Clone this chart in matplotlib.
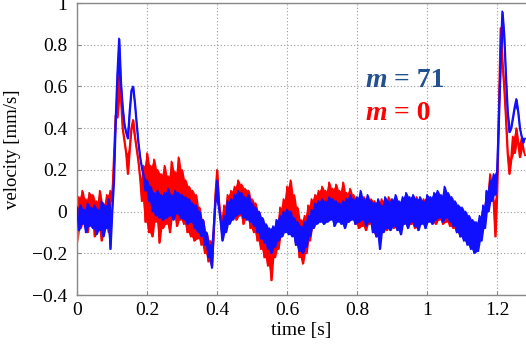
import numpy as np
import matplotlib
matplotlib.use("Agg")
import matplotlib.pyplot as plt

# sampling: one value every 0.005 s, from 0 to 1.28 s
t_start, t_step = 0.0, 0.005

blue_m71 = [
    0.02, -0.09, 0.03, -0.06, 0.01, -0.10, 0.04, -0.07, 0.02, -0.08,
    0.03, -0.11, 0.01, -0.09, 0.05, -0.12, 0.03, -0.08, 0.06, -0.18,
    0.00, 0.15, 0.44, 0.66, 0.83, 0.62, 0.50, 0.42, 0.38, 0.35,
    0.48, 0.58, 0.60, 0.52, 0.42, 0.33, 0.26, 0.21, 0.17, 0.10,
    0.15, 0.05, 0.12, 0.00, 0.09, -0.02, 0.10, -0.03, 0.08, -0.04,
    0.09, -0.03, 0.11, -0.02, 0.08, -0.04, 0.10, -0.01, 0.09, -0.03,
    0.08, -0.04, 0.07, -0.06, 0.06, -0.05, 0.04, -0.08, 0.03, -0.10,
    0.00, -0.12, -0.04, -0.16, -0.10, -0.22, -0.16, -0.27, -0.08, 0.05,
    0.15, 0.02, -0.05, -0.14, -0.02, -0.10, 0.05, -0.06, 0.06, -0.04,
    0.08, -0.02, 0.10, -0.01, 0.09, -0.03, 0.07, -0.04, 0.08, -0.05,
    0.04, -0.07, 0.02, -0.10, 0.00, -0.13, -0.03, -0.15, -0.06, -0.18,
    -0.08, -0.20, -0.07, -0.17, -0.04, -0.14, -0.02, -0.12, 0.00, -0.10,
    0.01, -0.11, 0.00, -0.12, -0.03, -0.16, -0.05, -0.19, -0.07, -0.20,
    -0.05, -0.17, -0.02, -0.12, 0.01, -0.08, 0.04, -0.06, 0.05, -0.05,
    0.06, -0.06, 0.05, -0.05, 0.07, -0.04, 0.06, -0.07, 0.05, -0.05,
    0.04, -0.06, 0.05, -0.08, 0.06, -0.05, 0.08, -0.04, 0.06, -0.06,
    0.07, -0.05, 0.10, -0.04, 0.06, -0.07, 0.08, -0.05, 0.05, -0.10,
    0.04, -0.12, 0.06, -0.18, 0.03, -0.10, 0.07, -0.08, 0.05, -0.09,
    0.06, -0.07, 0.08, -0.09, 0.05, -0.11, 0.07, -0.06, 0.09, -0.08,
    0.07, -0.05, 0.08, -0.07, 0.06, -0.09, 0.07, -0.06, 0.05, -0.08,
    0.08, -0.05, 0.07, -0.06, 0.09, -0.04, 0.10, -0.03, 0.08, -0.05,
    0.12, -0.03, 0.09, -0.05, 0.07, -0.07, 0.05, -0.10, 0.03, -0.12,
    0.02, -0.14, 0.00, -0.16, -0.02, -0.18, -0.04, -0.20, -0.05, -0.19,
    -0.02, -0.14, 0.03, -0.08, 0.10, 0.00, 0.15, 0.05, 0.18, 0.08,
    0.20, 0.45, 0.75, 0.96, 0.85, 0.65, 0.48, 0.38, 0.40, 0.45,
    0.50, 0.54, 0.48, 0.40, 0.36, 0.33, 0.35,
]

red_m0 = [
    -0.15, 0.07, -0.08, 0.10, -0.05, 0.06, -0.10, 0.09, -0.04, 0.08,
    -0.12, 0.05, -0.09, 0.10, -0.14, 0.04, -0.06, 0.08, -0.10, 0.10,
    0.05, 0.25, 0.46, 0.45, 0.65, 0.55, 0.40, 0.34, 0.28, 0.18,
    0.30, 0.40, 0.44, 0.36, 0.30, 0.24, 0.16, 0.05, 0.22, -0.05,
    0.28, -0.10, 0.22, -0.12, 0.25, -0.05, 0.20, -0.15, 0.18, -0.08,
    0.22, -0.06, 0.17, -0.10, 0.24, -0.02, 0.19, -0.07, 0.26, -0.04,
    0.20, -0.06, 0.15, -0.10, 0.12, -0.12, 0.10, -0.14, 0.08, -0.13,
    0.02, -0.16, -0.04, -0.20, -0.10, -0.24, -0.14, -0.26, -0.10, 0.08,
    0.20, 0.05, -0.02, -0.12, 0.03, -0.08, 0.08, -0.04, 0.10, -0.02,
    0.12, -0.04, 0.15, -0.02, 0.13, -0.06, 0.11, -0.03, 0.10, -0.08,
    0.06, -0.10, 0.04, -0.14, 0.00, -0.18, -0.04, -0.22, -0.08, -0.26,
    -0.10, -0.33, -0.08, -0.22, -0.04, -0.18, 0.02, -0.12, 0.06, -0.08,
    0.12, -0.06, 0.15, -0.10, 0.08, -0.16, 0.02, -0.22, -0.04, -0.25,
    -0.02, -0.20, 0.03, -0.14, 0.06, -0.08, 0.08, -0.05, 0.10, -0.04,
    0.12, -0.02, 0.10, -0.04, 0.14, -0.03, 0.11, -0.05, 0.13, -0.02,
    0.10, -0.04, 0.14, -0.02, 0.09, -0.05, 0.11, -0.03, 0.08, -0.06,
    0.06, -0.08, 0.05, -0.07, 0.07, -0.09, 0.04, -0.06, 0.06, -0.10,
    0.05, -0.12, 0.04, -0.10, 0.06, -0.08, 0.05, -0.09, 0.07, -0.06,
    0.05, -0.08, 0.06, -0.07, 0.04, -0.09, 0.06, -0.05, 0.07, -0.07,
    0.06, -0.06, 0.05, -0.08, 0.07, -0.07, 0.04, -0.05, 0.06, -0.07,
    0.07, -0.04, 0.06, -0.05, 0.08, -0.06, 0.09, -0.04, 0.07, -0.06,
    0.08, -0.05, 0.06, -0.07, 0.04, -0.08, 0.02, -0.10, 0.00, -0.12,
    -0.01, -0.12, -0.03, -0.10, -0.04, -0.14, -0.05, -0.12, -0.06, -0.15,
    -0.04, -0.10, 0.02, -0.05, 0.10, 0.04, 0.18, 0.10, 0.05, -0.12,
    0.10, 0.50, 0.88, 0.72, 0.60, 0.45, 0.28, 0.18, 0.25, 0.36,
    0.28, 0.40, 0.33, 0.26, 0.35, 0.30, 0.27,
]

x_ticks = [0, 0.2, 0.4, 0.6, 0.8, 1, 1.2]
x_tick_labels = ["0", "0.2", "0.4", "0.6", "0.8", "1", "1.2"]
y_ticks = [-0.4, -0.2, 0, 0.2, 0.4, 0.6, 0.8, 1]
y_tick_labels = ["\u22120.4", "\u22120.2", "0", "0.2", "0.4", "0.6", "0.8", "1"]

t_blue = t_start + t_step * np.arange(len(blue_m71))
t_red = t_start + t_step * np.arange(len(red_m0))

plt.rcParams["font.family"] = ["Liberation Serif", "DejaVu Serif"]

fig = plt.figure(figsize=(5.26, 3.49), dpi=100)
ax = fig.add_axes([77 / 526, 54 / 349, 1 - 77 / 526, 292 / 349])


def draw_trace(t, v, color, z):
    v = np.asarray(v)
    # dense noise core: band between consecutive samples
    lo = np.minimum(v[:-1], v[1:])
    hi = np.maximum(v[:-1], v[1:])
    tm = 0.5 * (t[:-1] + t[1:])
    ax.fill_between(tm, lo, hi, color=color, lw=0, zorder=z)
    ax.plot(t, v, color=color, lw=1.3, zorder=z)


draw_trace(t_red, red_m0, "#ff0000", 2)
draw_trace(t_blue, blue_m71, "#1010ff", 3)

ax.set_xlim(0, (526 - 77) / 350)
ax.set_ylim(-0.4, 1.0)
ax.set_xticks(x_ticks)
ax.set_xticklabels(x_tick_labels)
ax.set_yticks(y_ticks)
ax.set_yticklabels(y_tick_labels)
ax.tick_params(axis="x", labelsize=14, direction="in", length=3, color="#888888", pad=5)
ax.tick_params(axis="y", labelsize=14, direction="in", length=3, color="#888888", pad=7)
ax.grid(True, linestyle=(0, (1, 2)), color="#999999", lw=0.8)
ax.set_axisbelow(True)
for side in ["left", "bottom", "top"]:
    ax.spines[side].set_color("#888888")
    ax.spines[side].set_linewidth(1.0)
ax.spines["right"].set_visible(False)

ax.set_xlabel("time [s]", fontsize=14, labelpad=2)
ax.set_ylabel("velocity [mm/s]", fontsize=13.5, labelpad=8)

navy = "#23508e"
t1 = ax.text(0.823, 0.597, "m", color=navy, fontsize=20, fontweight="bold",
             fontstyle="italic", va="baseline", ha="left")
ax.annotate(" = 71", xy=(1, 0), xycoords=t1, color=navy, fontsize=20,
            fontweight="bold", va="bottom", ha="left")
t2 = ax.text(0.823, 0.44, "m", color="#ff0000", fontsize=20, fontweight="bold",
             fontstyle="italic", va="baseline", ha="left")
ax.annotate(" = 0", xy=(1, 0), xycoords=t2, color="#ff0000", fontsize=20,
            fontweight="bold", va="bottom", ha="left")

fig.savefig("out.png", dpi=100)
